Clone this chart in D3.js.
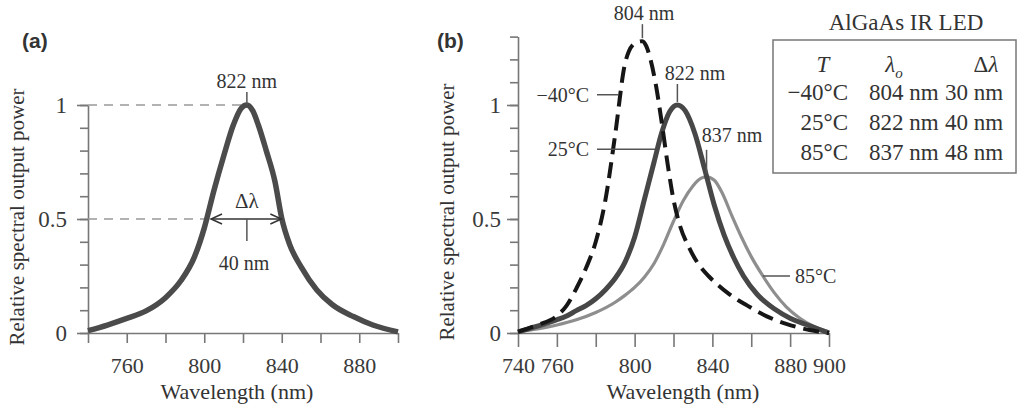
<!DOCTYPE html>
<html lang="en">
<head>
<meta charset="UTF-8">
<title>AlGaAs IR LED spectra</title>
<script src="https://cdn.jsdelivr.net/npm/d3@7"></script>
<style>
  body { margin: 0; background: #fff; }
  svg text { font-family: "Liberation Serif", "Times New Roman", serif; fill: #333; }
</style>
</head>
<body>
<div id="chart"></div>
<script>
// ---- data: [wavelength nm, relative power] ----
const spectrumA = [
  [740, 0.01], [750, 0.035], [760, 0.064], [770, 0.097], [780, 0.155], [788, 0.23],
  [795, 0.335], [800, 0.46], [805, 0.625], [810, 0.775], [815, 0.912], [819, 0.985],
  [822, 1.0], [825, 0.975], [828, 0.91], [832, 0.8], [836.5, 0.664], [840, 0.503],
  [844, 0.39], [850, 0.29], [858, 0.19], [866, 0.125], [877, 0.072], [887, 0.035], [900, 0.005]
];
const spectrumCold = [   // -40 C
  [740, 0.005], [750, 0.035], [760, 0.075], [765, 0.12], [770, 0.195], [775, 0.285],
  [780, 0.4], [785, 0.585], [790, 0.87], [795, 1.18], [797, 1.235], [801, 1.275], [804, 1.28],
  [806, 1.258], [808, 1.205], [811, 1.085], [814, 0.92], [817, 0.74], [820, 0.585], [823, 0.48],
  [828, 0.375], [833, 0.3], [838, 0.25], [843, 0.21], [848, 0.175], [853, 0.145],
  [858, 0.12], [863, 0.095], [868, 0.073], [873, 0.055], [878, 0.04], [884, 0.025],
  [890, 0.013], [900, 0.0]
];
const spectrumRoom = [   // 25 C
  [740, 0.005], [750, 0.03], [760, 0.058], [765, 0.075], [770, 0.098], [775, 0.12],
  [780, 0.15], [785, 0.19], [790, 0.24], [795, 0.31], [800, 0.42], [805, 0.585],
  [810, 0.75], [814, 0.88], [818, 0.97], [822, 1.0], [826, 0.975], [831, 0.875],
  [836, 0.72], [841, 0.56], [846, 0.43], [851, 0.33], [856, 0.25], [863, 0.17],
  [872, 0.105], [880, 0.065], [889, 0.035], [900, 0.0]
];
const spectrumHot = [    // 85 C
  [740, 0.005], [750, 0.018], [760, 0.035], [770, 0.058], [780, 0.09], [790, 0.135],
  [795, 0.165], [800, 0.2], [805, 0.245], [810, 0.305], [815, 0.39], [820, 0.49],
  [825, 0.58], [830, 0.645], [834, 0.678], [837, 0.685], [841, 0.67], [845, 0.615],
  [850, 0.515], [855, 0.42], [860, 0.335], [866, 0.25], [872, 0.175], [878, 0.115],
  [885, 0.065], [892, 0.03], [900, 0.005]
];

const xTickValues = [740, 760, 780, 800, 820, 840, 860, 880, 900];
const xLabelsA = [760, 800, 840, 880];
const xLabelsB = [740, 760, 800, 840, 880, 900];
const yLabels = [0, 0.5, 1];

const tableTitle = "AlGaAs IR LED";
const tableTemps = ["\u221240\u00b0C", "25\u00b0C", "85\u00b0C"];
const tablePeaks = ["804 nm", "822 nm", "837 nm"];
const tableWidths = ["30 nm", "40 nm", "48 nm"];

// ---- layout ----
const W = 1018, H = 410;
const svg = d3.select("#chart").append("svg")
  .attr("width", W).attr("height", H);
svg.append("rect").attr("width", W).attr("height", H).attr("fill", "#fff");

const xA = d3.scaleLinear().domain([740, 900]).range([88, 398]);
const yA = d3.scaleLinear().domain([0, 1]).range([333, 105]);
const xB = d3.scaleLinear().domain([740, 900]).range([518, 829]);
const yB = d3.scaleLinear().domain([0, 1.3]).range([333, 333 - 1.3 * 228]);

const axisColor = "#777";
const yFmt = d => d === 0.5 ? "0.5" : String(d);

function drawAxes(x, y, yMax, xLabels, xTickLen, yLabelGap) {
  // x axis
  const gx = svg.append("g")
    .attr("transform", "translate(0," + y(0) + ")")
    .call(d3.axisBottom(x).tickValues(xTickValues).tickSize(xTickLen).tickSizeOuter(0)
      .tickFormat(d => xLabels.includes(d) ? d : ""));
  gx.attr("font-family", null).attr("font-size", null);
  gx.selectAll("path, line").attr("stroke", axisColor).attr("stroke-width", 1.6);
  gx.selectAll("text").attr("y", 40).attr("dy", null)
    .style("font-size", "22px").style("fill", "#3a3a3a");

  // y axis minor ticks
  const minor = d3.range(0, Math.round(yMax * 10) + 1).map(i => i / 10);
  const gyMinor = svg.append("g")
    .attr("transform", "translate(" + x(740) + ",0)")
    .call(d3.axisLeft(y).tickValues(minor).tickSize(8).tickSizeOuter(0).tickFormat(""));
  gyMinor.selectAll("path, line").attr("stroke", axisColor).attr("stroke-width", 1.6);

  // y axis labelled ticks
  const gy = svg.append("g")
    .attr("transform", "translate(" + x(740) + ",0)")
    .call(d3.axisLeft(y).tickValues(yLabels).tickSize(11).tickSizeOuter(0)
      .tickPadding(yLabelGap - 11).tickFormat(yFmt));
  gy.attr("font-family", null).attr("font-size", null);
  gy.select(".domain").remove();
  gy.selectAll("line").attr("stroke", axisColor).attr("stroke-width", 1.6);
  gy.selectAll("text").style("font-size", "23px").style("fill", "#3a3a3a");
}

drawAxes(xA, yA, 1, xLabelsA, 10, 21);
drawAxes(xB, yB, 1.3, xLabelsB, 14, 17);

// axis titles
function axisTitles(xTitleX, yTitleX, yTitleY) {
  svg.append("text").attr("x", xTitleX).attr("y", 399)
    .attr("text-anchor", "middle").style("font-size", "22px")
    .text("Wavelength (nm)");
  svg.append("text")
    .attr("transform", "translate(" + yTitleX + "," + yTitleY + ") rotate(-90)")
    .attr("text-anchor", "middle").style("font-size", "21px")
    .text("Relative spectral output power");
}
axisTitles(237, 24, 217);
axisTitles(683, 454, 212);

// panel letters
svg.append("text").attr("x", 22).attr("y", 48)
  .style("font-family", "'Liberation Sans', Arial, sans-serif")
  .style("font-weight", "bold").style("font-size", "21px").style("fill", "#333").text("(a)");
svg.append("text").attr("x", 437).attr("y", 48)
  .style("font-family", "'Liberation Sans', Arial, sans-serif")
  .style("font-weight", "bold").style("font-size", "21px").style("fill", "#333").text("(b)");

// ---- panel (a) ----
const lineA = d3.line().x(d => xA(d[0])).y(d => yA(d[1])).curve(d3.curveMonotoneX);

// dashed guides at 1 and 0.5
svg.append("line")
  .attr("x1", xA(740)).attr("x2", xA(819)).attr("y1", yA(1)).attr("y2", yA(1))
  .attr("stroke", "#999").attr("stroke-width", 1.3).attr("stroke-dasharray", "9,7");
svg.append("line")
  .attr("x1", xA(740)).attr("x2", xA(801)).attr("y1", yA(0.5)).attr("y2", yA(0.5))
  .attr("stroke", "#999").attr("stroke-width", 1.3).attr("stroke-dasharray", "9,7");

svg.append("path").datum(spectrumA)
  .attr("d", lineA).attr("fill", "none")
  .attr("stroke", "#4b4b4b").attr("stroke-width", 5.5).attr("stroke-linejoin", "round");

// peak label
svg.append("line")
  .attr("x1", xA(822)).attr("x2", xA(822)).attr("y1", yA(1) - 13).attr("y2", yA(1))
  .attr("stroke", "#555").attr("stroke-width", 1.5);
svg.append("text").attr("x", xA(822)).attr("y", 88)
  .attr("text-anchor", "middle").style("font-size", "20px").text("822 nm");

// delta lambda arrow
const arrL = xA(803.5), arrR = xA(839.8), arrY = yA(0.5);
svg.append("line").attr("x1", arrL).attr("x2", arrR).attr("y1", arrY).attr("y2", arrY)
  .attr("stroke", "#333").attr("stroke-width", 1.5);
svg.append("path")
  .attr("d", "M" + (arrL + 11) + "," + (arrY - 5) + "L" + arrL + "," + arrY + "L" + (arrL + 11) + "," + (arrY + 5)
    + "M" + (arrR - 11) + "," + (arrY - 5) + "L" + arrR + "," + arrY + "L" + (arrR - 11) + "," + (arrY + 5))
  .attr("fill", "none").attr("stroke", "#333").attr("stroke-width", 1.5);
svg.append("line")
  .attr("x1", xA(822)).attr("x2", xA(822)).attr("y1", arrY).attr("y2", arrY + 22)
  .attr("stroke", "#555").attr("stroke-width", 1.5);
svg.append("text").attr("x", xA(822)).attr("y", 208)
  .attr("text-anchor", "middle").style("font-size", "21px").text("\u0394\u03bb");
svg.append("text").attr("x", xA(820.5)).attr("y", 270)
  .attr("text-anchor", "middle").style("font-size", "20px").text("40 nm");

// ---- panel (b) ----
const lineB = d3.line().x(d => xB(d[0])).y(d => yB(d[1])).curve(d3.curveMonotoneX);

svg.append("path").datum(spectrumHot)
  .attr("d", lineB).attr("fill", "none")
  .attr("stroke", "#8e8e8e").attr("stroke-width", 3.2);
svg.append("path").datum(spectrumRoom)
  .attr("d", lineB).attr("fill", "none")
  .attr("stroke", "#474747").attr("stroke-width", 5);
svg.append("path").datum(spectrumCold)
  .attr("d", lineB).attr("fill", "none")
  .attr("stroke", "#161616").attr("stroke-width", 4)
  .attr("stroke-dasharray", "16,8");

// peak markers
const peaks = [
  { wl: 804, v: 1.28, label: "804 nm", tx: 644, ty: 20, len: 14 },
  { wl: 822, v: 1.0, label: "822 nm", tx: 695, ty: 80, len: 18 },
  { wl: 837, v: 0.685, label: "837 nm", tx: 732, ty: 142, len: 24 }
];
peaks.forEach(p => {
  svg.append("line")
    .attr("x1", xB(p.wl)).attr("x2", xB(p.wl))
    .attr("y1", yB(p.v) - p.len - 3).attr("y2", yB(p.v) - 3)
    .attr("stroke", "#555").attr("stroke-width", 1.5);
  svg.append("text").attr("x", p.tx).attr("y", p.ty)
    .attr("text-anchor", "middle").style("font-size", "20px").text(p.label);
});

// series labels with leaders
const seriesLabels = [
  { label: tableTemps[0], wl: 791.5, v: 1.045, x0: 597, tx: 589, anchor: "end" },
  { label: tableTemps[1], wl: 810.5, v: 0.806, x0: 597, tx: 589, anchor: "end" },
  { label: tableTemps[2], wl: 866, v: 0.25, x0: 790, tx: 795, anchor: "start" }
];
seriesLabels.forEach(s => {
  const y = yB(s.v);
  svg.append("line")
    .attr("x1", s.x0).attr("x2", xB(s.wl)).attr("y1", y).attr("y2", y)
    .attr("stroke", "#555").attr("stroke-width", 1.5);
  svg.append("text").attr("x", s.tx).attr("y", y + 7)
    .attr("text-anchor", s.anchor).style("font-size", "20px").text(s.label);
});

// ---- table ----
svg.append("text").attr("x", 906).attr("y", 30)
  .attr("text-anchor", "middle").style("font-size", "23px").text(tableTitle);
svg.append("rect")
  .attr("x", 773).attr("y", 40).attr("width", 243).attr("height", 133)
  .attr("fill", "none").attr("stroke", "#777").attr("stroke-width", 1.5);

const hdrY = 72;
svg.append("text").attr("x", 823).attr("y", hdrY).attr("text-anchor", "middle")
  .style("font-size", "23px").style("font-style", "italic").text("T");
const hLam = svg.append("text").attr("x", 894).attr("y", hdrY).attr("text-anchor", "middle")
  .style("font-size", "23px");
hLam.append("tspan").style("font-style", "italic").text("\u03bb");
hLam.append("tspan").attr("dy", 6).style("font-size", "15px").style("font-style", "italic").text("o");
const hDel = svg.append("text").attr("x", 986).attr("y", hdrY).attr("text-anchor", "middle")
  .style("font-size", "23px");
hDel.append("tspan").text("\u0394");
hDel.append("tspan").style("font-style", "italic").text("\u03bb");

tableTemps.forEach((t, i) => {
  const y = 100 + i * 30;
  svg.append("text").attr("x", 848).attr("y", y).attr("text-anchor", "end")
    .style("font-size", "23px").text(t);
  svg.append("text").attr("x", 869).attr("y", y)
    .style("font-size", "23px").text(tablePeaks[i]);
  svg.append("text").attr("x", 945).attr("y", y)
    .style("font-size", "23px").text(tableWidths[i]);
});
</script>
</body>
</html>
